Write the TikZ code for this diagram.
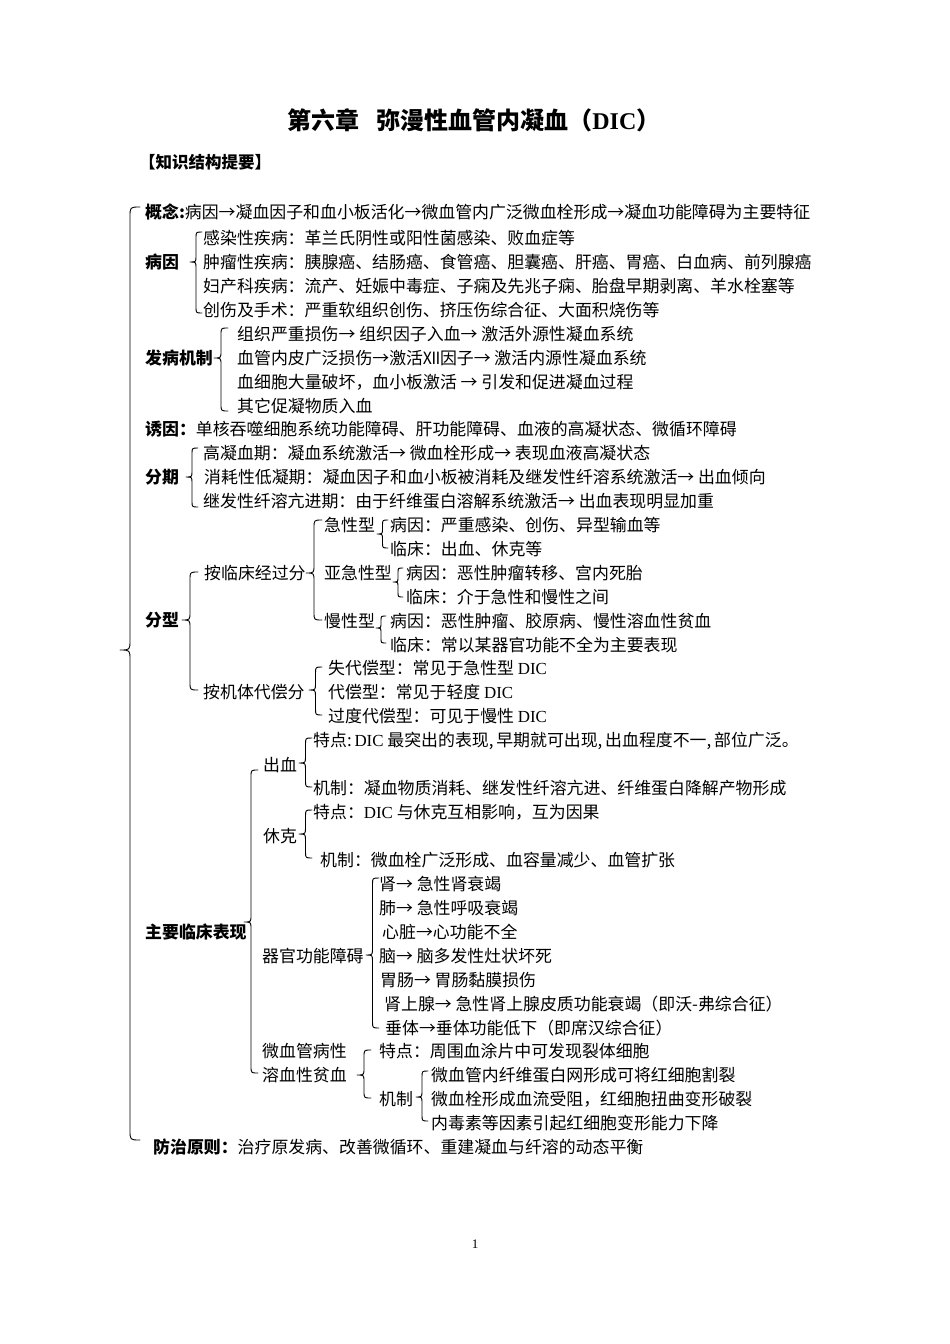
\documentclass[tikz,border=0pt]{standalone}
\usepackage{fontspec}
\setmainfont{Noto Sans CJK SC}
\newfontfamily\lat{Liberation Serif}
\newcommand\cbr[5]{% tip x, top y, tip y, bottom y, width
  \draw[brc] ({#1+#5},{#2}) .. controls ({#1+#5/2},{#2}) .. ({#1+#5/2},{#2+#5/2})
    -- ({#1+#5/2},{#3-#5/2}) .. controls ({#1+#5/2},{#3}) .. ({#1},{#3})
    .. controls ({#1+#5/2},{#3}) .. ({#1+#5/2},{#3+#5/2})
    -- ({#1+#5/2},{#4-#5/2}) .. controls ({#1+#5/2},{#4}) .. ({#1+#5},{#4});}
\tikzset{
  txt/.style={anchor=west, inner sep=0pt, font=\fontsize{16.9}{20}\selectfont},
  hd/.style={anchor=west, inner sep=0pt, font=\fontsize{16.9}{20}\selectfont\bfseries},
  brc/.style={line width=0.9pt, line cap=round, line join=round},
}
\begin{document}
\begin{tikzpicture}[x=1pt,y=-1pt]
\useasboundingbox[fill=white] (0,0) rectangle (950,1344);

\node[anchor=center,inner sep=0pt,font=\fontsize{24}{28}\selectfont\bfseries] (title) at (474,120) {第六章\hspace{0.7em}弥漫性血管内凝血（{\lat\bfseries DIC}）};
\node[anchor=west,inner sep=0pt,font=\fontsize{16.5}{20}\selectfont\bfseries] (sub) at (139,162) {【知识结构提要】};

% main brace
\cbr{120}{207}{650}{1140}{20}

\node[txt] (gn) at (145,212) {{\bfseries 概念:}病因→凝血因子和血小板活化→微血管内广泛微血栓形成→凝血功能障碍为主要特征};

\node[hd] (by) at (145,262) {病因};
\cbr{190}{232}{262}{313}{12}
\node[txt] (by1) at (203,238) {感染性疾病：革兰氏阴性或阳性菌感染、败血症等};
\node[txt] (by2) at (203,262) {肿瘤性疾病：胰腺癌、结肠癌、食管癌、胆囊癌、肝癌、胃癌、白血病、前列腺癌};
\node[txt] (by3) at (203,286) {妇产科疾病：流产、妊娠中毒症、子痫及先兆子痫、胎盘早期剥离、羊水栓塞等};
\node[txt] (by4) at (203,310) {创伤及手术：严重软组织创伤、挤压伤综合征、大面积烧伤等};

\node[hd] (fb) at (145,358) {发病机制};
\cbr{214}{328}{358}{411}{14}
\node[txt] (fb1) at (237,334) {组织严重损伤→ 组织因子入血→ 激活外源性凝血系统};
\node[txt] (fb2) at (237,358) {血管内皮广泛损伤→激活Ⅻ因子→ 激活内源性凝血系统};
\node[txt] (fb3) at (237,382) {血细胞大量破坏，血小板激活 → 引发和促进凝血过程};
\node[txt] (fb4) at (237,406) {其它促凝物质入血};

\node[txt] (yy) at (145,429) {{\bfseries 诱因：}单核吞噬细胞系统功能障碍、肝功能障碍、血液的高凝状态、微循环障碍};

\node[hd] (fq) at (145,477) {分期};
\cbr{186}{448}{477}{507}{12}
\node[txt] (fq1) at (203,453) {高凝血期：凝血系统激活→ 微血栓形成→ 表现血液高凝状态};
\node[txt] (fq2) at (204,477) {消耗性低凝期：凝血因子和血小板被消耗及继发性纤溶系统激活→ 出血倾向};
\node[txt] (fq3) at (203,501) {继发性纤溶亢进期：由于纤维蛋白溶解系统激活→ 出血表现明显加重};

\node[hd] (fx) at (145,620) {分型};
\cbr{182}{572}{620}{690}{16}
\node[txt] (lc) at (204,573) {按临床经过分};
\cbr{306}{520}{573}{620}{16}
\node[txt] (jx) at (324,525) {急性型};
\cbr{377}{520}{534}{548}{11}
\node[txt] (jx1) at (390,525) {病因：严重感染、创伤、异型输血等};
\node[txt] (jx2) at (390,549) {临床：出血、休克等};
\node[txt] (yj) at (324,573) {亚急性型};
\cbr{393}{568}{582}{597}{10}
\node[txt] (yj1) at (406,573) {病因：恶性肿瘤转移、宫内死胎};
\node[txt] (yj2) at (406,597) {临床：介于急性和慢性之间};
\node[txt] (mx) at (324,621) {慢性型};
\cbr{376}{616}{628}{643}{10}
\node[txt] (mx1) at (390,621) {病因：恶性肿瘤、胶原病、慢性溶血性贫血};
\node[txt] (mx2) at (390,645) {临床：常以某器官功能不全为主要表现};
\node[txt] (jt) at (203,692) {按机体代偿分};
\cbr{309}{667}{690}{715}{13}
\node[txt] (jt1) at (328,668) {失代偿型：常见于急性型 {\lat DIC}};
\node[txt] (jt2) at (328,692) {代偿型：常见于轻度 {\lat DIC}};
\node[txt] (jt3) at (328,716) {过度代偿型：可见于慢性 {\lat DIC}};

\node[hd] (lcbx) at (145,932) {主要临床表现};
\cbr{244}{770}{922}{1073}{14}

\node[txt] (cx) at (263,765) {出血};
\cbr{299}{738}{763}{787}{13}
\node[txt] (cx1) at (313,741) {特点:\,{\lat DIC} 最突出的表现,\,早期就可出现,\,出血程度不一,\,部位广泛。};
\node[txt] (cx2) at (313,788) {机制：凝血物质消耗、继发性纤溶亢进、纤维蛋白降解产物形成};

\node[txt] (xk) at (263,836) {休克};
\cbr{299}{810}{834}{858}{13}
\node[txt] (xk1) at (313,812) {特点：{\lat DIC} 与休克互相影响，互为因果};
\node[txt] (xk2) at (320,860) {机制：微血栓广泛形成、血容量减少、血管扩张};

\node[txt] (qg) at (262,956) {器官功能障碍};
\cbr{366}{878}{955}{1028}{13}
\node[txt] (qg1) at (379,884) {肾→ 急性肾衰竭};
\node[txt] (qg2) at (379,908) {肺→ 急性呼吸衰竭};
\node[txt] (qg3) at (382,932) {心脏→心功能不全};
\node[txt] (qg4) at (379,956) {脑→ 脑多发性灶状坏死};
\node[txt] (qg5) at (380,980) {胃肠→ 胃肠黏膜损伤};
\node[txt] (qg6) at (384,1004) {肾上腺→ 急性肾上腺皮质功能衰竭（即沃-弗综合征）};
\node[txt] (qg7) at (385,1028) {垂体→垂体功能低下（即席汉综合征）};

\node[txt] (wx1) at (262,1051) {微血管病性};
\node[txt] (wx2) at (262,1075) {溶血性贫血};
\cbr{357}{1050}{1075}{1098}{14}
\node[txt] (wxa) at (379,1051) {特点：周围血涂片中可发现裂体细胞};
\node[txt] (wxb) at (379,1099) {机制};
\cbr{416}{1071}{1097}{1121}{12}
\node[txt] (wb1) at (431,1075) {微血管内纤维蛋白网形成可将红细胞割裂};
\node[txt] (wb2) at (431,1099) {微血栓形成血流受阻，红细胞扭曲变形破裂};
\node[txt] (wb3) at (431,1123) {内毒素等因素引起红细胞变形能力下降};

\node[txt] (fz) at (153,1147) {{\bfseries 防治原则：}治疗原发病、改善微循环、重建凝血与纤溶的动态平衡};

\node[anchor=center,inner sep=0pt,font=\lat\fontsize{13}{15}\selectfont] (pg) at (475,1244) {1};
\end{tikzpicture}
\end{document}
